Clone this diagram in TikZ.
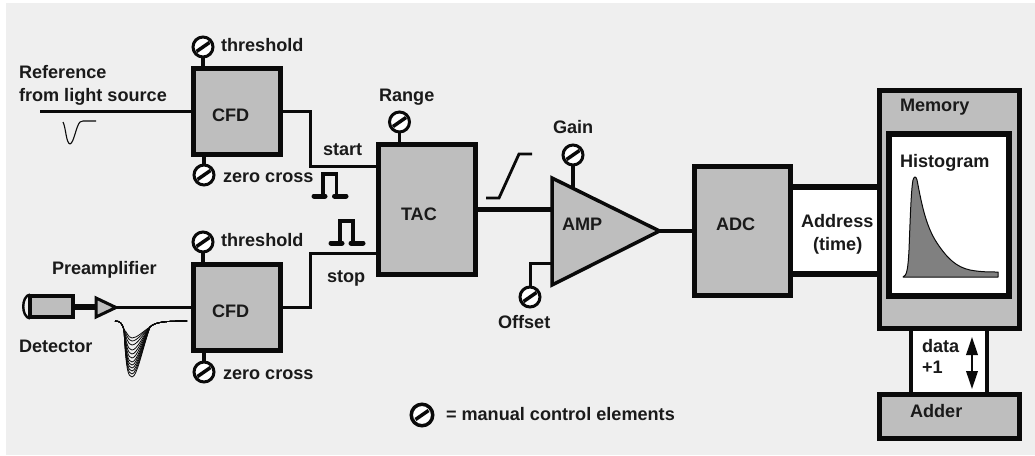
\documentclass[tikz,border=0pt]{standalone}
\usepackage{fontspec}
\setmainfont{Liberation Sans}
\usetikzlibrary{arrows.meta}
\definecolor{bgc}{HTML}{EFEFEF}
\definecolor{boxc}{HTML}{BEBEBE}
\definecolor{inkc}{HTML}{0A0A0A}
\definecolor{txtc}{HTML}{1A1A1A}
\tikzset{
  box/.style={draw=inkc,fill=boxc,line width=5pt,rectangle,inner sep=0pt,outer sep=0pt},
  whitebox/.style={draw=inkc,fill=white,line width=6pt,rectangle,inner sep=0pt,outer sep=0pt},
  lbl/.style={anchor=base west,inner sep=0pt,outer sep=0pt,text=txtc,font=\fontsize{18.1}{20}\selectfont\bfseries},
  dial/.style={circle,draw=inkc,fill=white,line width=3pt,minimum size=20pt,inner sep=0pt,outer sep=0pt,
    path picture={\draw[inkc,line width=3.5pt] ([shift={(-6.5,4.5)}]path picture bounding box.center) -- ([shift={(6.5,-4.5)}]path picture bounding box.center);}},
  wire/.style={draw=inkc,line width=3pt,line join=miter},
  stem/.style={draw=inkc,line width=3.5pt},
  pulseline/.style={draw=inkc,line width=3.5pt,line join=miter},
  pulsebase/.style={draw=inkc,line width=5pt,line cap=round},
  trace/.style={draw=inkc,line width=.8pt,line join=round},
}
\begin{document}
\begin{tikzpicture}[x=1pt,y=-1pt]
\useasboundingbox (0,0) rectangle (1035,455);
\fill[white] (0,0) rectangle (1035,455);
\fill[bgc] (6,3) rectangle (1035,455);

% boxes
\node[box,minimum width=87pt,minimum height=86pt] (cfda) at (237,111.5) {};
\node[box,minimum width=87pt,minimum height=86pt] (cfdb) at (237,307.5) {};
\node[box,minimum width=97pt,minimum height=130pt] (tac) at (427,209.5) {};
\node[box,minimum width=96pt,minimum height=129pt] (adc) at (742.5,231) {};

% address band
\fill[white] (793,187) rectangle (877,274);
\coordinate (addrT) at (793,187);
\coordinate (addrB) at (793,274);
\draw[draw=inkc,line width=6pt] (addrT) -- ++(84,0);
\draw[draw=inkc,line width=6pt] (addrB) -- ++(84,0);

% data band
\fill[white] (911,331) rectangle (987,392);
\coordinate (dataL) at (911,331);
\coordinate (dataR) at (987,331);
\draw[draw=inkc,line width=4pt] (dataL) -- ++(0,61);
\draw[draw=inkc,line width=4pt] (dataR) -- ++(0,61);

\node[box,minimum width=140pt,minimum height=238pt] (mem) at (949.5,209.5) {};
\node[whitebox,minimum width=120pt,minimum height=162pt] (hist) at (949,215) {};
\node[box,minimum width=140pt,minimum height=44pt] (add) at (949.5,416.5) {};

% histogram curve
\filldraw[fill=black!50,draw=inkc,line width=1pt,line join=round]
  (903,277) .. controls (907,276) and (908,268) .. (909,250)
  .. controls (910,225) and (911,190) .. (913,180)
  .. controls (914,176) and (916,176) .. (917,180)
  .. controls (921,200) and (925,225) .. (937,243)
  .. controls (947,258) and (956,267) .. (970,270)
  .. controls (980,272) and (990,272) .. (998,272)
  -- (998,277) -- cycle;

% amplifier
\filldraw[fill=boxc,draw=inkc,line width=3.5pt,line join=miter] (552,178) coordinate (ampTL) -- (659.5,231) coordinate (ampTip) -- (552,285) coordinate (ampBL) -- cycle;
\coordinate (ampIn) at (552,209);
\coordinate (ampOff) at (552,263);
\coordinate (ampGain) at (573,188.5);

% dials
\node[dial] (dthra) at (203,47) {};
\node[dial] (dzera) at (204,175) {};
\node[dial] (dthrb) at (203,242) {};
\node[dial] (dzerb) at (204,372) {};
\node[dial] (drange) at (399.5,122) {};
\node[dial] (dgain) at (573,155) {};
\node[dial] (doff) at (530,297) {};
\node[dial,minimum size=21.5pt,line width=3.5pt] (dleg) at (422,415) {};

% stems
\draw[stem] (dthra) -- (dthra |- cfda.north);
\draw[stem] (dzera) -- (dzera |- cfda.south);
\draw[stem] (dthrb) -- (dthrb |- cfdb.north);
\draw[stem] (dzerb) -- (dzerb |- cfdb.south);
\draw[stem] (drange) -- (drange |- tac.north);
\draw[stem] (dgain) -- (ampGain);
\draw[wire] (ampOff) -| (doff);

% signal wires
\coordinate (refStart) at (40,111.5);
\draw[wire] (refStart) -- (cfda.west);
\coordinate (tacStart) at (376,166.5);
\coordinate (tacStop) at (376,253);
\draw[wire] (cfda.east) -- ++(30,0) |- (tacStart);
\draw[wire] (cfdb.east) -- ++(30,0) |- (tacStop);
\draw[draw=inkc,line width=5pt] (tac.east |- ampIn) -- (ampIn);
\draw[draw=inkc,line width=3.5pt] (ampTip) -- (adc.west |- ampTip);

% detector and preamplifier
\node[rectangle,draw=inkc,fill=boxc,line width=4pt,minimum width=43pt,minimum height=21pt,inner sep=0pt,outer sep=0pt] (det) at (51.5,306.5) {};
\draw[draw=inkc,line width=2.4pt] (30,294.5) .. controls (21,296) and (21,317) .. (30,318.5);
\filldraw[fill=boxc,draw=inkc,line width=3pt,line join=miter] (96,298) coordinate (preL) -- (116,307.5) coordinate (preTip) -- (96,317) coordinate (preB) -- cycle;
\draw[draw=inkc,line width=6pt] (det.east) -- (det.east -| preL);
\draw[wire] (preTip) -- (cfdb.west);

% pulses
\draw[pulseline] (323,196) -- (323,174) -- (336.5,174) -- (336.5,196);
\coordinate (paL) at (314,196);
\coordinate (paR) at (346,196);
\draw[pulsebase] (paL) -- (325,196);
\draw[pulsebase] (334.5,196) -- (paR);
\draw[pulseline] (340,243) -- (340,221) -- (353,221) -- (353,243);
\coordinate (pbL) at (331,243);
\coordinate (pbR) at (363,243);
\draw[pulsebase] (pbL) -- (342,243);
\draw[pulsebase] (351,243) -- (pbR);
\coordinate (rampA) at (486,198);
\draw[draw=inkc,line width=2.8pt,line join=miter] (rampA) -- (499,198) -- (519,154) -- (532,154);

% reference trace
\draw[draw=inkc,line width=1.1pt,line join=round] (63,122) .. controls (66,128) and (66,143) .. (70,144)
  .. controls (74,143) and (76,126) .. (80,122) -- (83,121) -- (96,121);

% detector traces
\foreach \d in {338,341,345,350,354,358,362,365,368,371,374,377}{
  \draw[trace] (115,321) .. controls (120,321) and (122,323) .. (124,330)
    .. controls (126,\d-8) and (128,\d) .. (132,\d)
    .. controls (137,\d) and (143,{327+(\d-327)*.4}) .. (150,327)
    .. controls (155,322) and (165,321) .. (187,321);
}

% labels
\node[lbl] (tthra) at (221,51) {threshold};
\node[lbl] (tref) at (19,78) {Reference};
\node[lbl] (tfrom) at (19,101) {from light source};
\node[lbl] (tcfda) at (212,121) {CFD};
\node[lbl] (tzera) at (223,182) {zero cross};
\node[lbl] (tstart) at (323,155) {start};
\node[lbl] (tthrb) at (221,246) {threshold};
\node[lbl] (tpre) at (52,274) {Preamplifier};
\node[lbl] (tdet) at (19,352) {Detector};
\node[lbl] (tcfdb) at (212,317) {CFD};
\node[lbl] (tzerb) at (223,379) {zero cross};
\node[lbl] (tstop) at (327,282) {stop};
\node[lbl] (trange) at (379,101) {Range};
\node[lbl] (tgain) at (553,133) {Gain};
\node[lbl] (ttac) at (401,220) {TAC};
\node[lbl] (tamp) at (562,230) {AMP};
\node[lbl] (toff) at (498,328) {Offset};
\node[lbl] (tadc) at (716,230) {ADC};
\node[lbl] (taddr) at (801,227) {Address};
\node[lbl] (ttime) at (813,250) {(time)};
\node[lbl] (tmem) at (900,111) {Memory};
\node[lbl] (thist) at (900,167) {Histogram};
\node[lbl] (tdata) at (922,352) {data};
\node[lbl] (tplus) at (922,373) {+1};
\node[lbl] (tadd) at (910,417) {Adder};
\node[lbl] (tleg) at (446,420) {= manual control elements};

% read/write arrow
\coordinate (arrT) at (972,337);
\coordinate (arrB) at (972,389);
\draw[draw=inkc,line width=2pt,{Triangle[length=18pt,width=11.5pt]}-{Triangle[length=18pt,width=11.5pt]}] (arrT) -- (arrB);
\end{tikzpicture}
\end{document}
